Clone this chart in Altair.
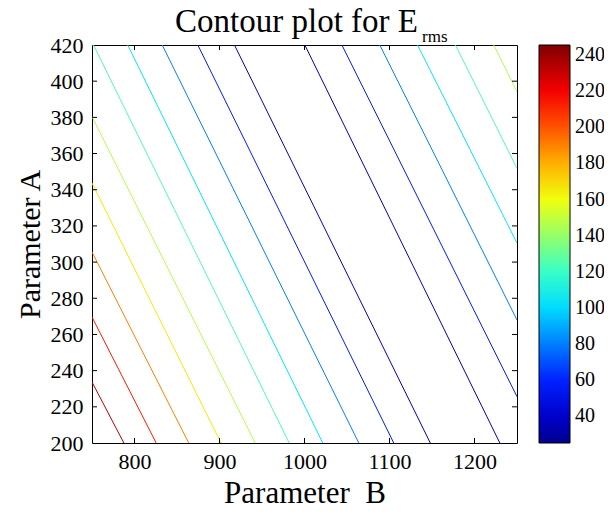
import altair as alt
import pandas as pd

# ---- data ----
x_ticks = [800, 900, 1000, 1100, 1200]
y_ticks = [200, 220, 240, 260, 280, 300, 320, 340, 360, 380, 400, 420]
cbar_ticks = [40, 60, 80, 100, 120, 140, 160, 180, 200, 220, 240]

# contour level value of each drawn line
line_level = [234.5, 212.5, 190.5, 168.4, 146.4, 124.4, 102.4, 80.3, 58.3, 36.3,
              36.3, 58.3, 80.3, 102.4, 124.4, 146.4]
# endpoints of each contour segment (Parameter B, Parameter A)
B_start = [787.5, 825.5, 863.8, 901.8, 942.0, 982.0, 1021.5, 1063.9, 1105.0, 1148.0,
           1229.8, 1250.0, 1250.0, 1250.0, 1250.0, 1250.0]
A_start = [200, 200, 200, 200, 200, 200, 200, 200, 200, 200,
           200, 225.6, 268.0, 310.5, 351.8, 394.2]
B_end = [750.0, 750.0, 750.0, 750.0, 750.0, 751.8, 792.0, 832.6, 874.5, 917.6,
         1000.4, 1044.0, 1088.6, 1133.0, 1177.6, 1222.7]
A_end = [233.7, 269.6, 305.6, 343.7, 380.4, 420, 420, 420, 420, 420,
         420, 420, 420, 420, 420, 420]

cmin, cmax = 25.3, 245.5

rows = []
for i in range(len(line_level)):
    rows.append({"id": i, "level": line_level[i], "B": B_start[i], "A": A_start[i], "o": 0})
    rows.append({"id": i, "level": line_level[i], "B": B_end[i], "A": A_end[i], "o": 1})
df = pd.DataFrame(rows)

W, H = 425, 398
FONT = "Liberation Serif"

# jet colormap anchors
span = cmax - cmin
jet_domain = [cmin, cmin + span * 0.125, cmin + span * 0.375, cmin + span * 0.625,
              cmin + span * 0.875, cmax]
jet_range = ["#00008f", "#0000ff", "#00ffff", "#ffff00", "#ff0000", "#800000"]

xscale = alt.Scale(domain=[750, 1250], nice=False, zero=False)
yscale = alt.Scale(domain=[200, 420], nice=False, zero=False)


def xaxis():
    return alt.Axis(values=x_ticks, format="d", ticks=False, domain=False, grid=False,
                    labelFont=FONT, labelFontSize=22, labelColor="black",
                    labelPadding=8, title="Parameter\u00a0 B",
                    titleFont=FONT, titleFontSize=31, titleFontWeight="normal",
                    titleColor="black", titlePadding=6)


def yaxis():
    return alt.Axis(values=y_ticks, format="d", ticks=False, domain=False, grid=False,
                    labelFont=FONT, labelFontSize=22, labelColor="black",
                    labelPadding=9, title="Parameter A",
                    titleFont=FONT, titleFontSize=30, titleFontWeight="normal",
                    titleColor="black", titlePadding=5)


lines = alt.Chart(df).mark_line(clip=True, strokeWidth=1).encode(
    x=alt.X("B:Q", scale=xscale, axis=xaxis(), title="Parameter\u00a0 B"),
    y=alt.Y("A:Q", scale=yscale, axis=yaxis(), title="Parameter A"),
    color=alt.Color("level:Q",
                    scale=alt.Scale(domain=jet_domain, range=jet_range, interpolate="rgb"),
                    legend=alt.Legend(orient="none", legendX=447, legendY=0,
                                      direction="vertical", gradientLength=H,
                                      gradientThickness=31, values=cbar_ticks,
                                      title=None, padding=0,
                                      labelFont=FONT, labelFontSize=20,
                                      labelColor="black", labelOffset=5,
                                      labelOverlap=False,
                                      gradientStrokeColor="black",
                                      gradientStrokeWidth=1)),
    detail="id:N",
    order="o:Q",
)

# inward tick marks on all four sides of the box
xt = pd.DataFrame({"B": x_ticks})
yt = pd.DataFrame({"A": y_ticks[1:-1]})
TL = 5
tick_bottom = alt.Chart(xt).mark_rule(color="black", strokeWidth=1).encode(
    x=alt.X("B:Q", scale=xscale, axis=xaxis(), title="Parameter\u00a0 B"),
    y=alt.value(H), y2=alt.value(H - TL))
tick_top = alt.Chart(xt).mark_rule(color="black", strokeWidth=1).encode(
    x=alt.X("B:Q", scale=xscale, axis=xaxis(), title="Parameter\u00a0 B"),
    y=alt.value(0), y2=alt.value(TL))
tick_left = alt.Chart(yt).mark_rule(color="black", strokeWidth=1).encode(
    y=alt.Y("A:Q", scale=yscale, axis=yaxis(), title="Parameter A"),
    x=alt.value(0), x2=alt.value(TL))
tick_right = alt.Chart(yt).mark_rule(color="black", strokeWidth=1).encode(
    y=alt.Y("A:Q", scale=yscale, axis=yaxis(), title="Parameter A"),
    x=alt.value(W), x2=alt.value(W - TL))

one = pd.DataFrame({"k": [0]})
title_main = alt.Chart(one).mark_text(
    text="Contour plot for E", font=FONT, fontSize=33, align="right",
    baseline="alphabetic", color="black").encode(x=alt.value(326), y=alt.value(-13))
title_sub = alt.Chart(one).mark_text(
    text="rms", font=FONT, fontSize=17, align="left",
    baseline="alphabetic", color="black").encode(x=alt.value(330), y=alt.value(-3))

chart = alt.layer(lines, tick_bottom, tick_top, tick_left, tick_right,
                  title_main, title_sub).properties(
    width=W, height=H,
    background="white",
    autosize=alt.AutoSizeParams(type="none"),
    padding={"left": 84, "top": 37, "right": 87, "bottom": 65},
).configure_view(stroke="black", strokeWidth=1)

chart.save("out.html", embed_options={"renderer": "svg", "actions": False})
